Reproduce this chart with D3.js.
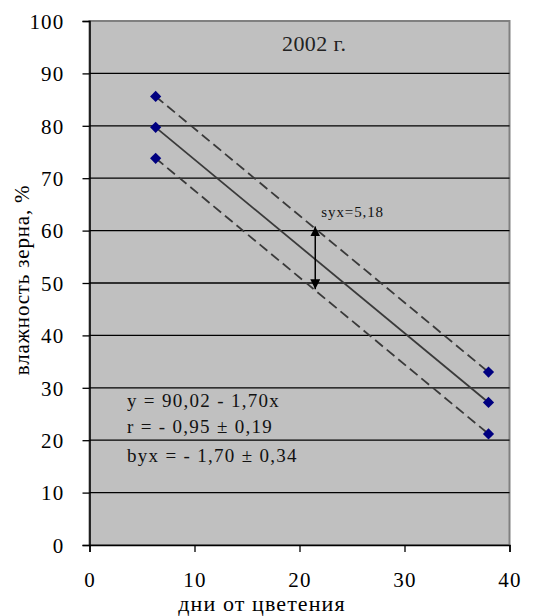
<!DOCTYPE html>
<html>
<head>
<meta charset="utf-8">
<script src="https://cdn.jsdelivr.net/npm/d3@7"></script>
<style>
  body { margin: 0; background: #fff; }
</style>
</head>
<body>
<svg></svg>
<script>
// data
let xTicks = [0, 10, 20, 30, 40]
let yTicks = [0, 10, 20, 30, 40, 50, 60, 70, 80, 90, 100]
let days = [6.3, 38]
let fitLine = [79.7, 27.2]
let upperLine = [85.6, 33.0]
let lowerLine = [73.8, 21.2]
let arrowX = 21.5
let arrowFrom = 48.8
let arrowTo = 60.8
let titleText = '2002 г.'
let syxText = 'syx=5,18'
let eqTexts = ['y = 90,02 - 1,70x', 'r = - 0,95 ± 0,19', 'byx = - 1,70 ± 0,34']

let width = 534
let height = 616
let plotLeft = 89.5, plotRight = 509.5, plotTop = 21, plotBottom = 545
let serif = '"Liberation Serif", "Times New Roman", serif'

let svg = d3.select('svg').attr('width', width).attr('height', height)

let xScale = d3.scaleLinear().domain([0, 40]).range([plotLeft, plotRight])
let yScale = d3.scaleLinear().domain([0, 100]).range([plotBottom, plotTop])

// plot area
svg.append('rect')
  .attr('x', plotLeft).attr('y', plotTop)
  .attr('width', plotRight - plotLeft).attr('height', plotBottom - plotTop)
  .attr('fill', '#c0c0c0')
  .attr('stroke', '#808080').attr('stroke-width', 2)

// gridlines
svg.selectAll('.grid')
  .data(yTicks.filter(d => d > 0 && d < 100))
  .enter().append('line')
  .attr('x1', plotLeft).attr('x2', plotRight)
  .attr('y1', d => yScale(d)).attr('y2', d => yScale(d))
  .attr('stroke', '#000').attr('stroke-width', 1.3)

// axes
let yAxis = d3.axisLeft(yScale).tickValues(yTicks).tickSize(7).tickPadding(18)
let gy = svg.append('g').attr('transform', `translate(${plotLeft},0)`).call(yAxis)
let xAxis = d3.axisBottom(xScale).tickValues(xTicks).tickSize(7).tickPadding(20)
let gx = svg.append('g').attr('transform', `translate(0,${plotBottom})`).call(xAxis)
;[gx, gy].forEach(g => {
  g.select('.domain').attr('stroke', '#000').attr('stroke-width', 1.5)
  g.selectAll('line').attr('stroke', '#000').attr('stroke-width', 1.3)
  g.selectAll('text').attr('fill', '#000')
    .style('font-family', serif).style('font-size', '21px')
    .style('letter-spacing', '1.2px')
})
gy.selectAll('text').attr('dy', '0.35em')

// lines
let lines = [
  { vals: upperLine, dash: '10,5' },
  { vals: fitLine, dash: null },
  { vals: lowerLine, dash: '10,5' }
]
let lineGen = d3.line().x(d => xScale(d[0])).y(d => yScale(d[1]))
lines.forEach(l => {
  svg.append('path')
    .attr('d', lineGen(days.map((x, i) => [x, l.vals[i]])))
    .attr('fill', 'none')
    .attr('stroke', '#3a3a3a')
    .attr('stroke-width', 1.8)
    .attr('stroke-dasharray', l.dash)
})

// diamond markers
let points = []
lines.forEach(l => days.forEach((x, i) => points.push([x, l.vals[i]])))
svg.selectAll('.pt')
  .data(points)
  .enter().append('path')
  .attr('d', d3.symbol(d3.symbolDiamond2, 80))
  .attr('transform', d => `translate(${xScale(d[0])},${yScale(d[1])})`)
  .attr('fill', '#000080')

// double arrow
let defs = svg.append('defs')
defs.append('marker')
  .attr('id', 'ah').attr('viewBox', '0 0 10 10')
  .attr('refX', 10).attr('refY', 5)
  .attr('markerWidth', 10).attr('markerHeight', 10)
  .attr('markerUnits', 'userSpaceOnUse')
  .attr('orient', 'auto-start-reverse')
  .append('path').attr('d', 'M0,0 L10,5 L0,10 Z').attr('fill', '#000')
svg.append('line')
  .attr('x1', xScale(arrowX)).attr('x2', xScale(arrowX))
  .attr('y1', yScale(arrowFrom)).attr('y2', yScale(arrowTo))
  .attr('stroke', '#000').attr('stroke-width', 1.5)
  .attr('marker-start', 'url(#ah)').attr('marker-end', 'url(#ah)')

svg.append('text')
  .attr('x', xScale(arrowX) + 6).attr('y', yScale(arrowTo) - 9)
  .style('font-family', serif).style('font-size', '15px')
  .style('letter-spacing', '0.9px')
  .attr('fill', '#111')
  .text(syxText)

svg.append('text')
  .attr('x', 282).attr('y', 51)
  .style('font-family', serif).style('font-size', '22px')
  .style('letter-spacing', '0.4px')
  .attr('fill', '#222')
  .text(titleText)

svg.selectAll('.eq')
  .data(eqTexts)
  .enter().append('text')
  .attr('x', 127)
  .attr('y', (d, i) => [407, 433, 462][i])
  .style('font-family', serif).style('font-size', '19px')
  .style('letter-spacing', '1.3px')
  .attr('fill', '#111')
  .text(d => d)

// axis titles
svg.append('text')
  .attr('x', 262).attr('y', 611)
  .attr('text-anchor', 'middle')
  .style('font-family', serif).style('font-size', '22px')
  .style('letter-spacing', '1.1px')
  .text('дни от цветения')

svg.append('text')
  .attr('transform', 'translate(29,280) rotate(-90)')
  .attr('text-anchor', 'middle')
  .style('font-family', serif).style('font-size', '21px')
  .style('letter-spacing', '0.8px')
  .text('влажность зерна, %')
</script>
</body>
</html>
